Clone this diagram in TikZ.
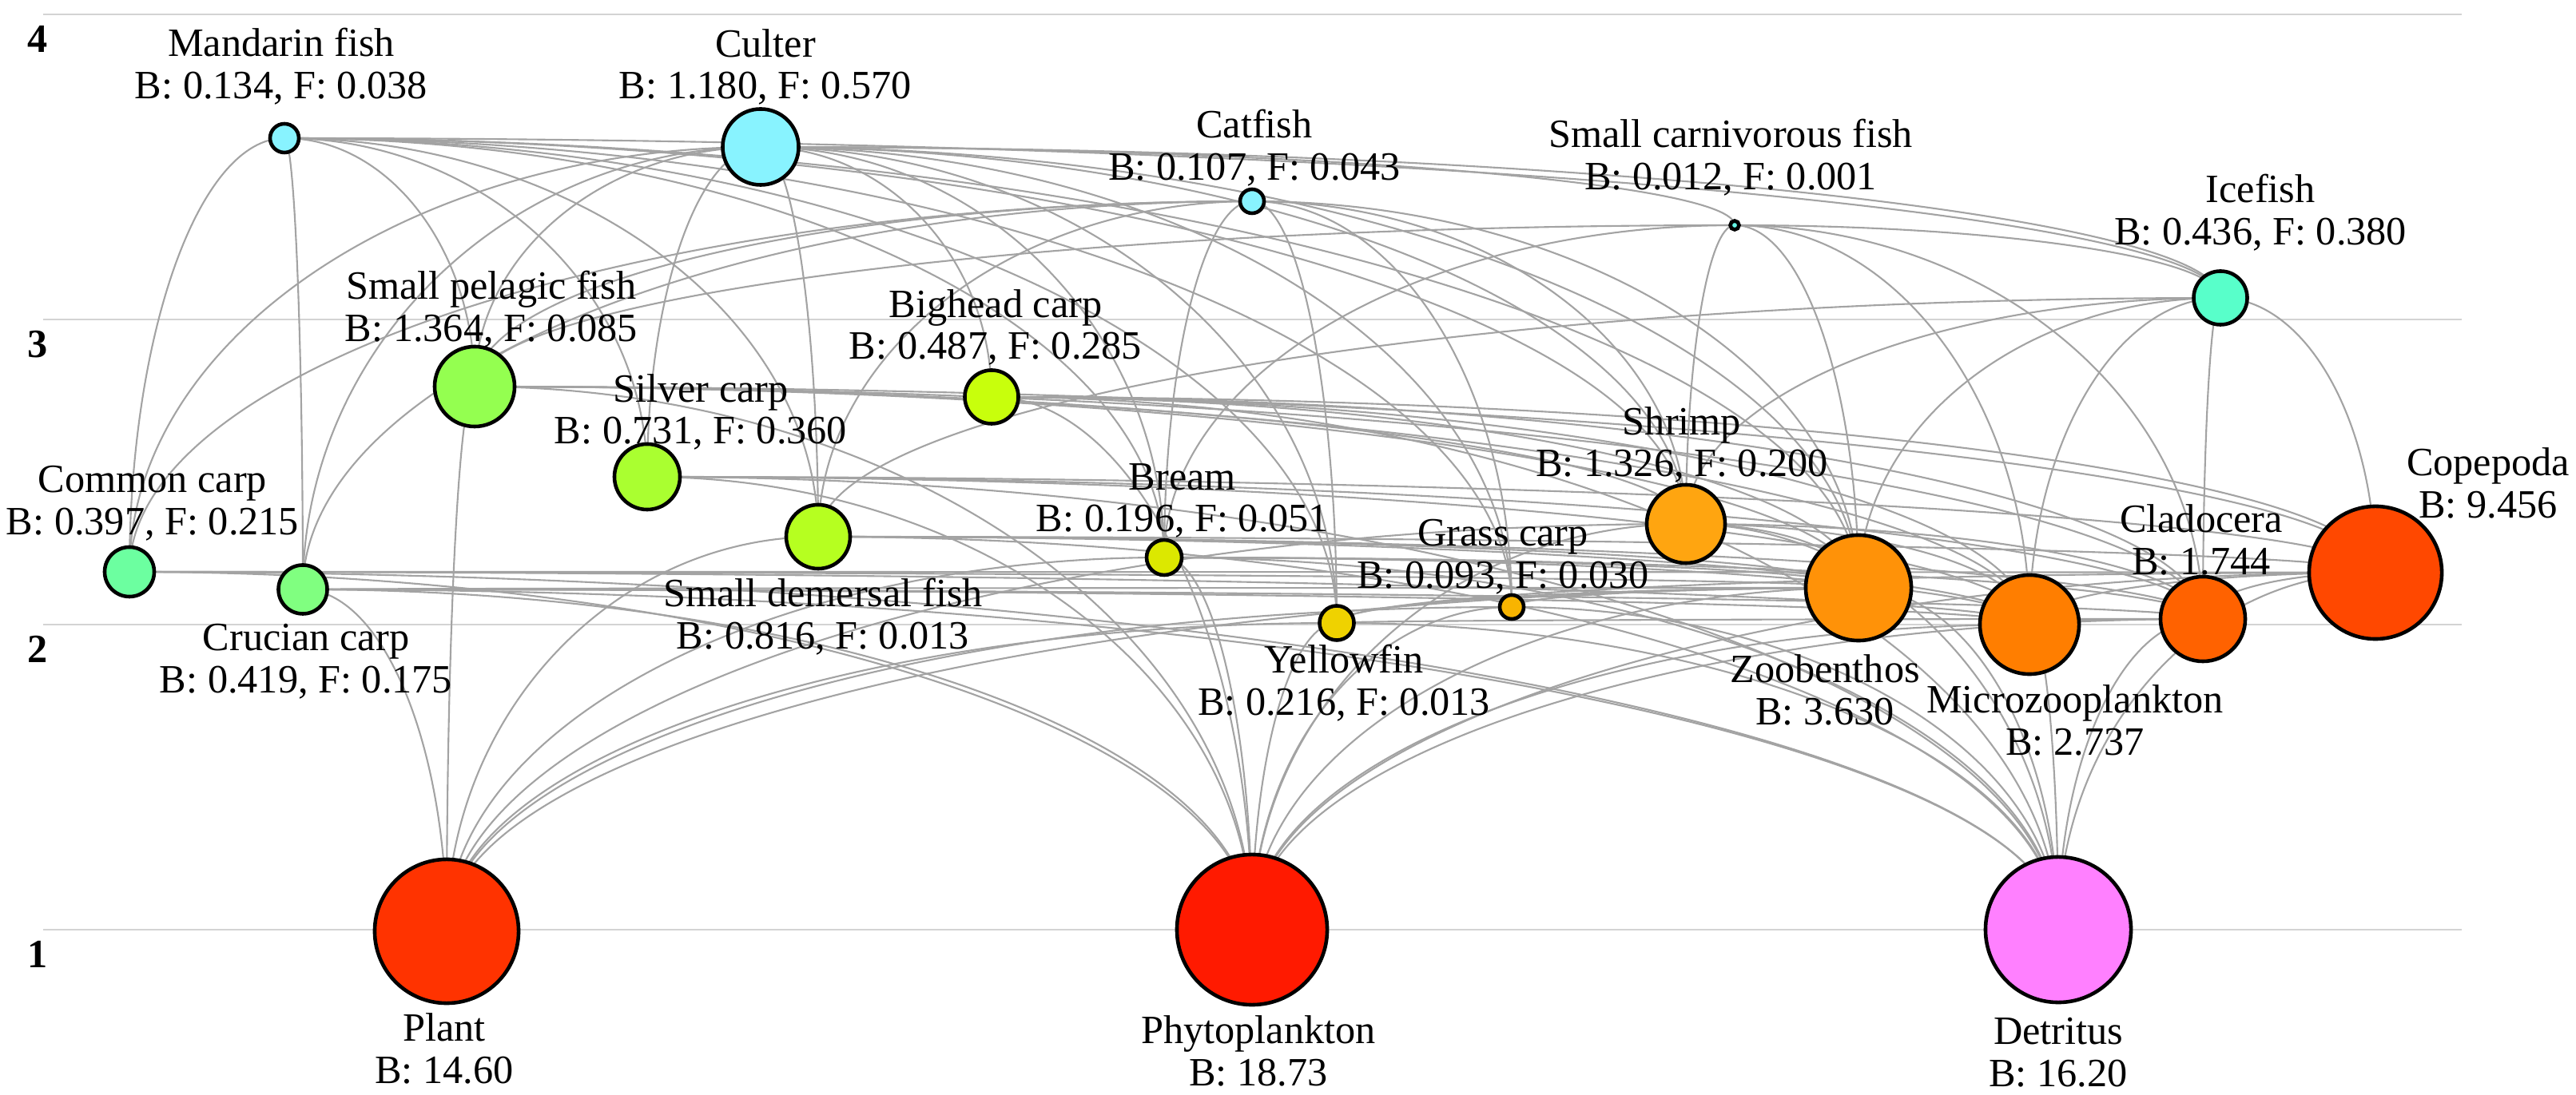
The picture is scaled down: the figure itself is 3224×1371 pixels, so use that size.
\documentclass[tikz,border=0pt]{standalone}
\usepackage{fontspec}
\setmainfont{Liberation Serif}
\usetikzlibrary{calc,backgrounds}

\definecolor{cpred}{HTML}{88F3FF}
\definecolor{csmall}{HTML}{66F6E6}
\definecolor{cice}{HTML}{58FFCA}
\definecolor{ccomm}{HTML}{6CFFA0}
\definecolor{ccruc}{HTML}{80FF80}
\definecolor{cpel}{HTML}{94FF50}
\definecolor{csilver}{HTML}{AAFF30}
\definecolor{cdem}{HTML}{B6FF20}
\definecolor{cbig}{HTML}{C8FF0C}
\definecolor{cbream}{HTML}{DCE800}
\definecolor{cyellow}{HTML}{EFD200}
\definecolor{cgrass}{HTML}{F8B400}
\definecolor{cshrimp}{HTML}{FFA510}
\definecolor{czoob}{HTML}{FF9208}
\definecolor{cmicro}{HTML}{FF7E00}
\definecolor{cclad}{HTML}{FF6200}
\definecolor{ccope}{HTML}{FF4800}
\definecolor{cplant}{HTML}{FF3300}
\definecolor{cphyto}{HTML}{FF1A00}
\definecolor{cdetr}{HTML}{FF80FF}
\definecolor{cweb}{HTML}{A3A3A3}
\definecolor{cgrid}{HTML}{D3D3D3}

\newcommand{\tagfont}{\fontsize{14.3pt}{15pt}\selectfont}

\tikzset{
  sp/.style={circle, draw=black, line width=1.3pt, inner sep=0pt, minimum size=#1},
  tag/.style={align=center, inner sep=0pt},
  lvl/.style={font=\tagfont\bfseries, inner sep=0pt},
  web/.style={draw=cweb, line width=0.6pt},
  grid line/.style={draw=cgrid, line width=0.8pt}
}

% upper node first: leaves it level, meets the lower one upright
\newcommand{\feeds}[2]{%
  \draw[web] let \p1=(#1.center), \p2=(#2.center) in
    (\p1) .. controls ({\x1+0.55*(\x2-\x1)},\y1) and (\x2,{\y2+0.55*(\y1-\y2)}) .. (\p2);}

\begin{document}
\begin{tikzpicture}[x=0.01cm, y=-0.01cm, font=\tagfont]
\useasboundingbox (0,0) rectangle (3224,1371);

% compartments
\node[sp=0.36cm, fill=cpred]   (mand)   at (356,173)  {};
\node[sp=0.95cm, fill=cpred]   (culter) at (952,184)  {};
\node[sp=0.30cm, fill=cpred]   (cat)    at (1567,252) {};
\node[sp=0.11cm, fill=csmall]  (carn)   at (2171,282) {};
\node[sp=0.67cm, fill=cice]    (ice)    at (2779,373) {};
\node[sp=1.00cm, fill=cpel]    (pel)    at (594,484)  {};
\node[sp=0.67cm, fill=cbig]    (big)    at (1241,497) {};
\node[sp=0.82cm, fill=csilver] (silver) at (810,597)  {};
\node[sp=0.80cm, fill=cdem]    (dem)    at (1024,672) {};
\node[sp=0.62cm, fill=ccomm]   (comm)   at (162,716)  {};
\node[sp=0.61cm, fill=ccruc]   (cruc)   at (379,738)  {};
\node[sp=0.44cm, fill=cbream]  (bream)  at (1457,698) {};
\node[sp=0.43cm, fill=cyellow] (yellow) at (1673,780) {};
\node[sp=0.30cm, fill=cgrass]  (grass)  at (1892,760) {};
\node[sp=0.98cm, fill=cshrimp] (shrimp) at (2110,656) {};
\node[sp=1.32cm, fill=czoob]   (zoob)   at (2326,736) {};
\node[sp=1.24cm, fill=cmicro]  (micro)  at (2540,782) {};
\node[sp=1.06cm, fill=cclad]   (clad)   at (2757,775) {};
\node[sp=1.66cm, fill=ccope]   (cope)   at (2973,717) {};
\node[sp=1.80cm, fill=cplant]  (plant)  at (559,1166) {};
\node[sp=1.88cm, fill=cphyto]  (phyto)  at (1567,1164) {};
\node[sp=1.82cm, fill=cdetr]   (detr)   at (2576,1164) {};

% labels
\node[tag] (mand-l)   at (352,83)    {Mandarin fish\\B: 0.134, F: 0.038};
\node[tag] (culter-l) at (958,84)    {Culter\\B: 1.180, F: 0.570};
\node[tag] (cat-l)    at (1570,185)  {Catfish\\B: 0.107, F: 0.043};
\node[tag] (carn-l)   at (2166,197)  {Small carnivorous fish\\B: 0.012, F: 0.001};
\node[tag] (ice-l)    at (2829,266)  {Icefish\\B: 0.436, F: 0.380};
\node[tag] (pel-l)    at (615,387)   {Small pelagic fish\\B: 1.364, F: 0.085};
\node[tag] (big-l)    at (1246,410)  {Bighead carp\\B: 0.487, F: 0.285};
\node[tag] (silver-l) at (877,516)   {Silver carp\\B: 0.731, F: 0.360};
\node[tag] (dem-l)    at (1030,772)  {Small demersal fish\\B: 0.816, F: 0.013};
\node[tag] (comm-l)   at (191,630)   {Common carp\\B: 0.397, F: 0.215};
\node[tag] (cruc-l)   at (383,828)   {Crucian carp\\B: 0.419, F: 0.175};
\node[tag] (bream-l)  at (1480,627)  {Bream\\B: 0.196, F: 0.051};
\node[tag] (yellow-l) at (1682,855)  {Yellowfin\\B: 0.216, F: 0.013};
\node[tag] (grass-l)  at (1881,697)  {Grass carp\\B: 0.093, F: 0.030};
\node[tag] (shrimp-l) at (2105,557)  {Shrimp\\B: 1.326, F: 0.200};
\node[tag] (zoob-l)   at (2284,864)  {Zoobenthos\\B: 3.630};
\node[tag] (micro-l)  at (2597,902)  {Microzooplankton\\B: 2.737};
\node[tag] (clad-l)   at (2755,676)  {Cladocera\\B: 1.744};
\node[tag] (cope-l)   at (3114,605)  {Copepoda\\B: 9.456};
\node[tag] (plant-l)  at (556,1313)  {Plant\\B: 14.60};
\node[tag] (phyto-l)  at (1575,1316) {Phytoplankton\\B: 18.73};
\node[tag] (detr-l)   at (2576,1318) {Detritus\\B: 16.20};

\begin{scope}[on background layer]
  % trophic levels
  \foreach \lv in {1,2,3,4}{
    \coordinate (g\lv a) at (54,{1164-382*(\lv-1)});
    \coordinate (g\lv b) at (3081,{1164-382*(\lv-1)});
    \draw[grid line] (g\lv a) -- (g\lv b);
    \node[lvl] (lv\lv) at (47,{1195-382*(\lv-1)}) {\lv};
  }
  % diet links
  \foreach \b in {comm,cruc,pel,silver,bream,dem,yellow,grass,shrimp,zoob,ice}{\feeds{mand}{\b}}
  \foreach \b in {pel,comm,cruc,silver,big,bream,dem,yellow,grass,shrimp,zoob,ice,carn}{\feeds{culter}{\b}}
  \foreach \b in {bream,yellow,dem,shrimp,zoob,cruc,comm,grass,pel}{\feeds{cat}{\b}}
  \foreach \b in {shrimp,zoob,micro,clad,pel,ice,bream}{\feeds{carn}{\b}}
  \foreach \b in {cope,clad,micro,zoob,shrimp,dem}{\feeds{ice}{\b}}
  \foreach \b in {plant,cope,clad,micro,zoob,shrimp,phyto}{\feeds{pel}{\b}}
  \foreach \b in {cope,clad,micro,phyto,detr,zoob}{\feeds{big}{\b}}
  \foreach \b in {phyto,detr,micro,clad,cope}{\feeds{silver}{\b}}
  \foreach \b in {phyto,detr,plant,micro,zoob,clad}{\feeds{shrimp}{\b}}
  \foreach \b in {zoob,detr,plant,cope,clad,micro}{\feeds{dem}{\b}}
  \foreach \b in {plant,phyto,detr,zoob,clad,micro}{\feeds{bream}{\b}}
  \foreach \b in {zoob,detr,phyto,micro,cope}{\feeds{comm}{\b}}
  \foreach \b in {detr,plant,phyto,micro,clad}{\feeds{cruc}{\b}}
  \foreach \b in {phyto,detr,plant}{\feeds{yellow}{\b}}
  \foreach \b in {plant,phyto,detr}{\feeds{grass}{\b}}
  \foreach \b in {detr,phyto,plant,cruc,yellow,grass}{\feeds{zoob}{\b}}
  \foreach \b in {phyto,detr}{\feeds{micro}{\b}}
  \foreach \b in {phyto,detr,micro,yellow}{\feeds{clad}{\b}}
  \foreach \b in {phyto,detr,micro,clad,yellow}{\feeds{cope}{\b}}
\end{scope}
\end{tikzpicture}
\end{document}
